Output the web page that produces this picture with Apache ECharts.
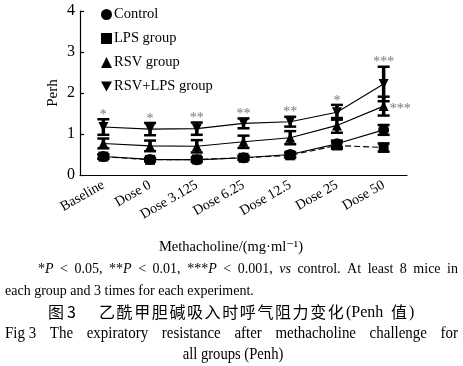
<!DOCTYPE html>
<html>
<head>
<meta charset="utf-8">
<script src="https://cdn.jsdelivr.net/npm/echarts@6/dist/echarts.min.js"></script>
<style>
html,body{margin:0;padding:0;background:#fff;}
#chart{width:463px;height:366px;}
</style>
</head>
<body>
<div id="chart"></div>
<script>
const categories = ['Baseline', 'Dose 0', 'Dose 3.125', 'Dose 6.25', 'Dose 12.5', 'Dose 25', 'Dose 50'];
const controlMean = [0.45, 0.38, 0.37, 0.42, 0.50, 0.76, 1.10];
const controlSD   = [0.05, 0.04, 0.05, 0.04, 0.05, 0.08, 0.12];
const lpsMean     = [0.45, 0.37, 0.38, 0.42, 0.48, 0.72, 0.67];
const lpsSD       = [0.05, 0.04, 0.05, 0.05, 0.06, 0.08, 0.10];
const rsvMean     = [0.77, 0.71, 0.70, 0.81, 0.91, 1.21, 1.68];
const rsvSD       = [0.12, 0.13, 0.15, 0.15, 0.16, 0.18, 0.23];
const rsvLpsMean  = [1.17, 1.12, 1.13, 1.26, 1.30, 1.53, 2.22];
const rsvLpsSD    = [0.19, 0.15, 0.15, 0.12, 0.12, 0.18, 0.42];
const rsvLpsSig   = ['*', '*', '**', '**', '**', '*', '***'];
const rsvSig      = ['', '', '', '', '', '', '***'];
const yTicks = [0, 1, 2, 3, 4];

const serif = '"Liberation Serif", "DejaVu Serif", serif';
const cjk = '"Noto Sans CJK SC", sans-serif';
const invTri = 'path://M0,0 L10,0 L5,9 Z';

const measureCtx = document.createElement('canvas').getContext('2d');
function textW(t, size, family, italic) {
  measureCtx.font = (italic ? 'italic ' : '') + size + 'px ' + family;
  return measureCtx.measureText(t).width;
}
// tokens: array of arrays of segments {t, it}
function justify(tokens, x0, x1, top, size, family, sx) {
  sx = sx || 1;
  const widths = tokens.map(tok => tok.reduce((s, seg) => s + textW(seg.t, size, family, seg.it) * sx, 0));
  const total = widths.reduce((a, b) => a + b, 0);
  const gap = (x1 - x0 - total) / (tokens.length - 1);
  const els = [];
  let x = x0;
  tokens.forEach((tok, k) => {
    let px = x;
    tok.forEach(seg => {
      els.push({ type: 'text', x: px, y: top, scaleX: sx, silent: true,
        style: { text: seg.t, fontFamily: family, fontSize: size, fontStyle: seg.it ? 'italic' : 'normal', fill: '#000' } });
      px += textW(seg.t, size, family, seg.it) * sx;
    });
    x += widths[k] + gap;
  });
  return els;
}
function plain(str) { return str.split(' ').map(w => [{ t: w }]); }

function errSeries(name, mean, sd) {
  return {
    type: 'custom',
    name: name + '_err',
    z: 3,
    silent: true,
    data: mean.map((m, i) => [i, m - sd[i], m + sd[i]]),
    renderItem: function (params, api) {
      const lo = api.coord([api.value(0), api.value(1)]);
      const hi = api.coord([api.value(0), api.value(2)]);
      const w = 6;
      const st = { stroke: '#000', lineWidth: 2.5 };
      return {
        type: 'group',
        children: [
          { type: 'line', shape: { x1: lo[0], y1: lo[1], x2: hi[0], y2: hi[1] }, style: { stroke: '#000', lineWidth: 3.5 } },
          { type: 'line', shape: { x1: lo[0] - w, y1: lo[1], x2: lo[0] + w, y2: lo[1] }, style: st },
          { type: 'line', shape: { x1: hi[0] - w, y1: hi[1], x2: hi[0] + w, y2: hi[1] }, style: st }
        ]
      };
    }
  };
}

function lineSeries(name, mean, symbol, dashed) {
  return {
    type: 'line',
    name: name,
    data: mean,
    symbol: symbol,
    symbolSize: symbol === 'circle' ? 11 : 10,
    z: 4,
    itemStyle: { color: '#000' },
    lineStyle: { color: '#000', width: 1.1, type: dashed ? [6, 3] : 'solid' },
    emphasis: { disabled: true },
    animation: false
  };
}

const line1 = [
  [{ t: '*' }, { t: 'P', it: true }], [{ t: '<' }], [{ t: '0.05,' }],
  [{ t: '**' }, { t: 'P', it: true }], [{ t: '<' }], [{ t: '0.01,' }],
  [{ t: '***' }, { t: 'P', it: true }], [{ t: '<' }], [{ t: '0.001,' }],
  [{ t: 'vs', it: true }]
].concat(plain('control. At least 8 mice in'));
const figTokens = [[{ t: 'Fig 3' }]].concat(plain('The expiratory resistance after methacholine challenge for'));

const cnChars = '乙酰甲胆碱吸入时呼气阻力变化'.split('');
const cnEls = [
  { type: 'text', x: 48, y: 304, style: { text: '图', fontFamily: cjk, fontSize: 16, fill: '#000' } },
  { type: 'text', x: 67, y: 304, style: { text: '3', fontFamily: cjk, fontSize: 16, fill: '#000' } }
].concat(cnChars.map((c, i) => ({ type: 'text', x: 99 + i * 17.6, y: 304, style: { text: c, fontFamily: cjk, fontSize: 16, fill: '#000' } })))
 .concat([
  { type: 'text', x: 346, y: 305, style: { text: '(Penh', fontFamily: serif, fontSize: 16, fill: '#000' } },
  { type: 'text', x: 391, y: 304, style: { text: '值', fontFamily: cjk, fontSize: 16, fill: '#000' } },
  { type: 'text', x: 409, y: 305, style: { text: ')', fontFamily: serif, fontSize: 16, fill: '#000' } }
 ]);

const tailText = 'all groups (Penh)';
const tailW = textW(tailText, 17, serif) * 0.86;

const chart = echarts.init(document.getElementById('chart'), null, { renderer: 'canvas' });
chart.setOption({
  animation: false,
  backgroundColor: '#fff',
  grid: { left: 80, right: 56, top: 11, bottom: 191 },
  legend: {
    orient: 'vertical',
    left: 96,
    top: 2,
    itemWidth: 11,
    itemHeight: 11,
    itemGap: 9,
    selectedMode: false,
    textStyle: { fontFamily: serif, fontSize: 14.5, color: '#000', padding: [0, 0, 0, -3] },
    data: [
      { name: 'Control', icon: 'circle' },
      { name: 'LPS group', icon: 'rect' },
      { name: 'RSV group', icon: 'triangle' },
      { name: 'RSV+LPS group', icon: invTri }
    ]
  },
  xAxis: {
    type: 'category',
    data: categories,
    boundaryGap: true,
    axisLine: { lineStyle: { color: '#000', width: 1.2 } },
    axisTick: { inside: true, alignWithLabel: true, length: 4, lineStyle: { color: '#000', width: 1.5 } },
    axisLabel: { rotate: 30, fontFamily: serif, fontSize: 14, color: '#000', margin: 9 },
    name: 'Methacholine/(mg·ml⁻¹)',
    nameLocation: 'middle',
    nameGap: 65,
    nameTextStyle: { fontFamily: serif, fontSize: 14.5, color: '#000', padding: [0, 25, 0, 0] }
  },
  yAxis: {
    type: 'value',
    min: yTicks[0],
    max: yTicks[yTicks.length - 1],
    interval: 1,
    splitLine: { show: false },
    axisLine: { show: true, lineStyle: { color: '#000', width: 1.2 } },
    axisTick: { show: true, inside: true, length: 4, lineStyle: { color: '#000', width: 1.2 } },
    axisLabel: { fontFamily: serif, fontSize: 16, color: '#000', margin: 5 },
    name: 'Perh',
    nameLocation: 'middle',
    nameGap: 19,
    nameMoveOverlap: false,
    nameRotate: 90,
    nameTextStyle: { fontFamily: serif, fontSize: 15, color: '#000' }
  },
  series: [
    errSeries('Control', controlMean, controlSD),
    errSeries('LPS group', lpsMean, lpsSD),
    errSeries('RSV group', rsvMean, rsvSD),
    errSeries('RSV+LPS group', rsvLpsMean, rsvLpsSD),
    lineSeries('Control', controlMean, 'circle', false),
    lineSeries('LPS group', lpsMean, 'rect', true),
    lineSeries('RSV group', rsvMean, 'triangle', false),
    lineSeries('RSV+LPS group', rsvLpsMean, invTri, false),
    {
      type: 'scatter',
      name: 'sig1',
      symbolSize: 0,
      silent: true,
      data: rsvLpsMean.map((m, i) => [i, m + rsvLpsSD[i]]),
      label: {
        show: true,
        position: 'top',
        distance: -3,
        formatter: p => rsvLpsSig[p.dataIndex],
        fontFamily: serif, fontSize: 14, color: '#555'
      }
    },
    {
      type: 'scatter',
      name: 'sig2',
      symbolSize: 0,
      silent: true,
      data: rsvMean.map((m, i) => [i, m]),
      label: {
        show: true,
        position: 'right',
        distance: 6,
        offset: [0, 3],
        formatter: p => rsvSig[p.dataIndex],
        fontFamily: serif, fontSize: 14, color: '#555'
      }
    }
  ],
  graphic: [].concat(
    justify(line1, 38, 458, 262, 14, serif),
    [{ type: 'text', x: 5, y: 284, style: { text: 'each group and 3 times for each experiment.', fontFamily: serif, fontSize: 14, fill: '#000' } }],
    cnEls,
    justify(figTokens, 5, 458, 325, 17, serif, 0.88),
    [{ type: 'text', x: 233 - tailW / 2, y: 346, scaleX: 0.86, style: { text: tailText, fontFamily: serif, fontSize: 17, fill: '#000' } }]
  )
});
</script>
</body>
</html>
